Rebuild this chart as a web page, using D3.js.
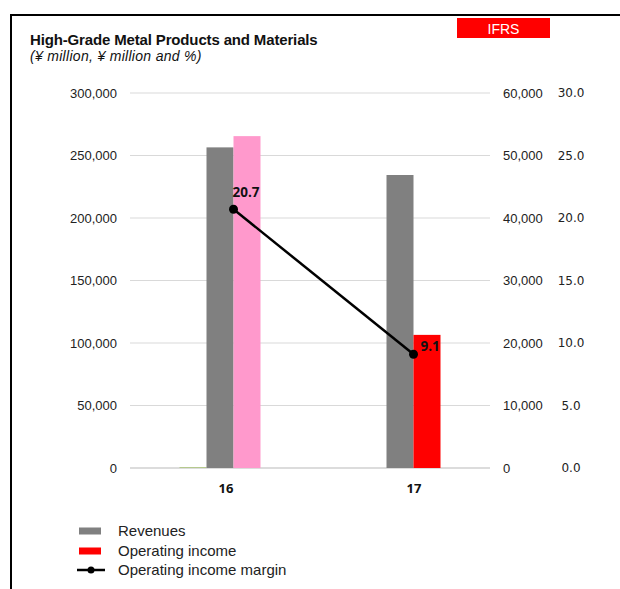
<!DOCTYPE html>
<html><head><meta charset="utf-8">
<script src="https://cdn.jsdelivr.net/npm/d3@7/dist/d3.min.js"></script>
<style>body{margin:0;background:#fff}svg{display:block}</style>
</head><body>
<svg id="c" width="620" height="589"></svg>
<script>
const categories = ["16", "17"];
const revenues = [256500, 234400];
const operatingIncome = [53100, 21300];
const otherSeries = [800, 0];
const margin = [20.7, 9.1];
const leftTicks = [0, 50000, 100000, 150000, 200000, 250000, 300000];
const rightTicks = [0, 10000, 20000, 30000, 40000, 50000, 60000];
const marginTicks = [0, 5, 10, 15, 20, 25, 30];
const oiColors = ["#ff99cc", "#ff0000"];
const legendItems = ["Revenues", "Operating income", "Operating income margin"];

(function(){
const svg = d3.select("#c");
const pTop = 93, pBottom = 468, pLeft = 130, pRight = 490;
const SANS = "Liberation Sans, Arial, sans-serif";

// frame
svg.append("path").attr("d", `M11,589 L11,15 L620,15`).attr("fill","none").attr("stroke","#000").attr("stroke-width",2);

// title
svg.append("text").attr("x",30).attr("y",45).attr("font-family",SANS)
  .attr("font-size",15).attr("font-weight","bold").attr("fill","#111").attr("letter-spacing","-0.15")
  .text("High-Grade Metal Products and Materials");
svg.append("text").attr("x",30).attr("y",61).attr("font-family",SANS)
  .attr("font-size",14).attr("font-style","italic").attr("fill","#111").attr("letter-spacing","0.3")
  .text("(¥ million, ¥ million and %)");

// IFRS badge
svg.append("rect").attr("x",457).attr("y",18).attr("width",93).attr("height",20).attr("fill","#ff0000");
svg.append("text").attr("x",503.5).attr("y",33.5).attr("text-anchor","middle").attr("fill","#fff")
  .attr("font-family",SANS).attr("font-size",14).text("IFRS");

const yL = d3.scaleLinear().domain([0,300000]).range([pBottom, pTop]);
const yR = d3.scaleLinear().domain([0,60000]).range([pBottom, pTop]);
const yM = d3.scaleLinear().domain([0,30]).range([pBottom, pTop]);
const x = d3.scaleBand().domain(categories).range([pLeft, pRight]);
const xs = d3.scaleBand().domain(["other","rev","oi"]).range([49.5, 130.5]);

// gridlines
svg.append("g").selectAll("line").data(leftTicks).join("line")
  .attr("x1",pLeft).attr("x2",pRight).attr("y1",d=>yL(d)).attr("y2",d=>yL(d))
  .attr("stroke",(d)=>d===0?"#d0d0d0":"#d9d9d9").attr("stroke-width",d=>d===0?1.5:1);

const fmt = d3.format(",");
const gL = svg.append("g").attr("transform",`translate(117,0)`)
  .call(d3.axisLeft(yL).tickValues(leftTicks).tickFormat(fmt).tickSize(0).tickPadding(0));
gL.select(".domain").remove();
gL.selectAll("text").attr("font-family",SANS).attr("font-size",13).attr("fill","#222");

const gR = svg.append("g").attr("transform",`translate(503,0)`)
  .call(d3.axisRight(yR).tickValues(rightTicks).tickFormat(fmt).tickSize(0).tickPadding(0));
gR.select(".domain").remove();
gR.selectAll("text").attr("font-family",SANS).attr("font-size",13).attr("fill","#222");

const gM = svg.append("g").attr("transform",`translate(571,0)`)
  .call(d3.axisRight(yM).tickValues(marginTicks).tickFormat(d3.format(".1f")).tickSize(0).tickPadding(0));
gM.select(".domain").remove();
gM.selectAll("text").attr("text-anchor","middle").attr("font-family","DejaVu Sans, sans-serif").attr("font-size",12).attr("fill","#222");

// bars
const bw = xs.bandwidth();
svg.append("g").selectAll("rect").data(categories).join("rect")
  .attr("x",d=>x(d)+xs("other")).attr("width",bw)
  .attr("y",(d,i)=>yL(otherSeries[i])).attr("height",(d,i)=>pBottom-yL(otherSeries[i]))
  .attr("fill","#b5c98e");
svg.append("g").selectAll("rect").data(categories).join("rect")
  .attr("x",d=>x(d)+xs("rev")).attr("width",bw)
  .attr("y",(d,i)=>yL(revenues[i])).attr("height",(d,i)=>pBottom-yL(revenues[i]))
  .attr("fill","#808080");
svg.append("g").selectAll("rect").data(categories).join("rect")
  .attr("x",d=>x(d)+xs("oi")).attr("width",bw)
  .attr("y",(d,i)=>yR(operatingIncome[i])).attr("height",(d,i)=>pBottom-yR(operatingIncome[i]))
  .attr("fill",(d,i)=>oiColors[i]);

// category labels
svg.append("g").selectAll("text").data(categories).join("text")
  .attr("x",(d,i)=>x(d)+x.bandwidth()/2+6+i*8).attr("y",493).attr("text-anchor","middle")
  .attr("font-family","Open Sans, sans-serif").attr("font-weight","bold").attr("font-size",13).attr("fill","#111")
  .text(d=>d);

// margin line
const lx = (d)=>x(d)+xs("oi");
const line = d3.line().x((d,i)=>lx(categories[i])).y(d=>yM(d));
svg.append("path").datum(margin).attr("d",line).attr("fill","none").attr("stroke","#000").attr("stroke-width",2.5);
svg.append("g").selectAll("circle").data(margin).join("circle")
  .attr("cx",(d,i)=>lx(categories[i])).attr("cy",d=>yM(d)).attr("r",4.5).attr("fill","#000");
svg.append("g").selectAll("text").data(margin).join("text")
  .attr("x",(d,i)=>lx(categories[i])+(i===0?-1:7))
  .attr("y",(d,i)=>yM(d)+(i===0?-12:-3))
  .attr("font-family","Open Sans, sans-serif").attr("font-weight","bold").attr("font-size",13.5).attr("fill","#111")
  .text(d=>d.toFixed(1));

// legend
const lg = svg.append("g");
const ly = [531, 551, 570];
lg.append("rect").attr("x",79).attr("y",ly[0]-3.5).attr("width",22).attr("height",7).attr("fill","#808080");
lg.append("rect").attr("x",79).attr("y",ly[1]-3.5).attr("width",22).attr("height",7).attr("fill","#ff0000");
lg.append("line").attr("x1",77).attr("x2",105).attr("y1",ly[2]).attr("y2",ly[2]).attr("stroke","#000").attr("stroke-width",2.5);
lg.append("circle").attr("cx",91).attr("cy",ly[2]).attr("r",3.5).attr("fill","#000");
lg.selectAll("text").data(legendItems).join("text")
  .attr("x",118).attr("y",(d,i)=>ly[i]+5)
  .attr("font-family",SANS).attr("font-size",15).attr("fill","#222")
  .text(d=>d);
})();
</script>
</body></html>
